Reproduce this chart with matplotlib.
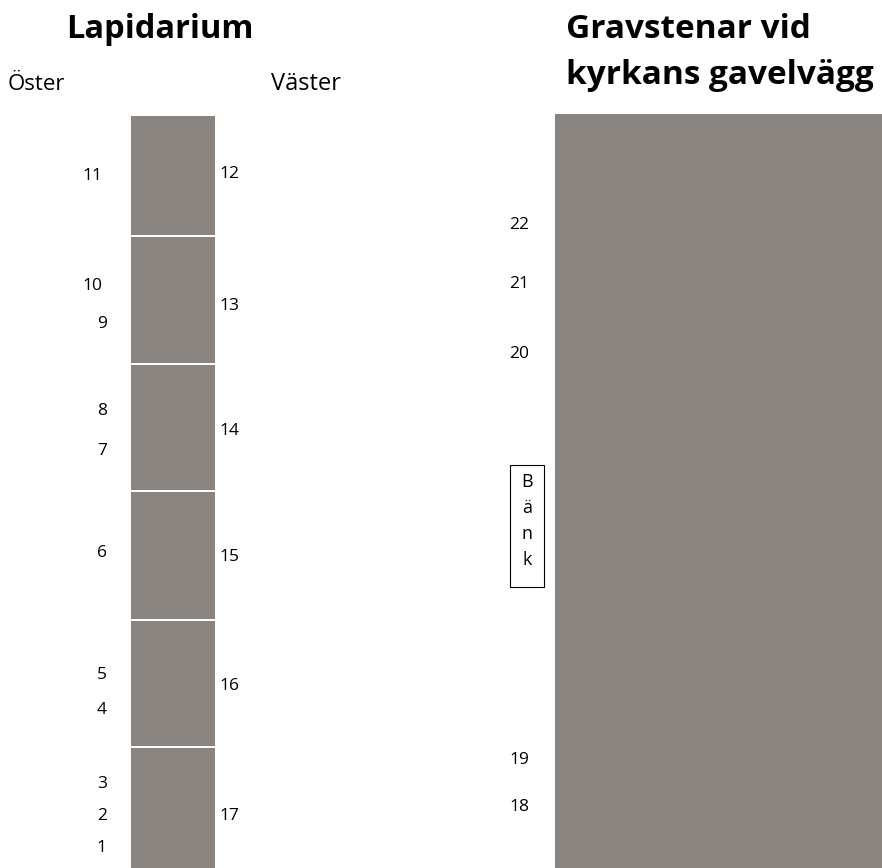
import matplotlib.pyplot as plt
from matplotlib.patches import Rectangle

plt.rcParams['font.family'] = ['Open Sans', 'DejaVu Sans']

# Layout data (pixel space of the 882x868 drawing)
seg_tops = [116, 237, 365, 492, 621, 748]
seg_bottoms = [235, 363, 490, 619, 746, 868]

east_labels = ['11', '10', '9', '8', '7', '6', '5', '4', '3', '2', '1']
east_x = [92, 92, 102, 102, 102, 102, 102, 102, 102, 102, 101]
east_y = [176, 286, 324, 411, 451, 553, 675, 710, 784, 816, 848]

west_labels = ['12', '13', '14', '15', '16', '17']
west_y = [174, 306, 431, 557, 686, 816]

wall_labels = ['22', '21', '20', '19', '18']
wall_y = [225, 284, 354, 760, 807]

bench_letters = ['B', 'ä', 'n', 'k']
bench_y = [482, 508, 534, 560]

stone = '#8a8581'

fig = plt.figure(figsize=(8.82, 8.68), dpi=100)
ax = fig.add_axes([0, 0, 1, 1])
ax.set_xlim(0, 882)
ax.set_ylim(868, 0)
ax.axis('off')

# Lapidarium column
for top, bot in zip(seg_tops, seg_bottoms):
    ax.add_patch(Rectangle((131, top), 84, bot - top, facecolor=stone, edgecolor='none'))

# Wall block
ax.add_patch(Rectangle((555, 114), 327, 754, facecolor=stone, edgecolor='none'))

# Titles
ax.text(160, 29, 'Lapidarium', fontsize=23.5, fontweight='bold', ha='center', va='center')
ax.text(8, 84, 'Öster', fontsize=16, ha='left', va='center')
ax.text(271, 84, 'Väster', fontsize=17, ha='left', va='center')
ax.text(566, 30, 'Gravstenar vid', fontsize=24, fontweight='bold', ha='left', va='center')
ax.text(566, 75, 'kyrkans gavelvägg', fontsize=24, fontweight='bold', ha='left', va='center')

# Numbers
for lab, x, y in zip(east_labels, east_x, east_y):
    ax.text(x, y, lab, fontsize=12.5, ha='center', va='center')
for lab, y in zip(west_labels, west_y):
    ax.text(219, y, lab, fontsize=12.5, ha='left', va='center')
for lab, y in zip(wall_labels, wall_y):
    ax.text(509, y, lab, fontsize=12.5, ha='left', va='center')

# Bench
ax.add_patch(Rectangle((510, 465), 34, 122, facecolor='white', edgecolor='black', linewidth=0.8))
for ch, y in zip(bench_letters, bench_y):
    ax.text(527, y, ch, fontsize=13, ha='center', va='center')

fig.savefig('out.png', dpi=100)
